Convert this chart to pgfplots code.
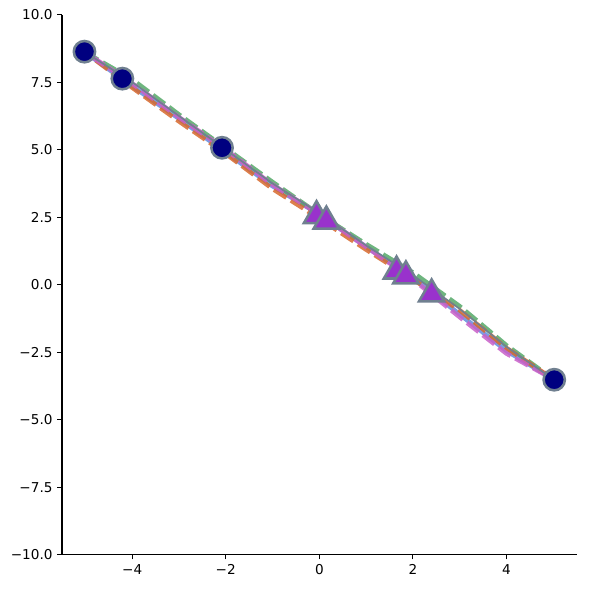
\documentclass[border=0pt]{standalone}
\usepackage{pgfplots}
\pgfplotsset{compat=1.18}
\usetikzlibrary{calc}
\usepackage{fontspec}
\setmainfont{DejaVu Sans}
\definecolor{cblue}{RGB}{100,140,220}
\definecolor{cgreen}{RGB}{85,168,104}
\definecolor{corange}{RGB}{215,105,45}
\definecolor{corchid}{RGB}{200,95,200}
\definecolor{slate}{RGB}{112,128,144}
\definecolor{navyc}{RGB}{0,0,128}
\definecolor{orchidc}{RGB}{153,50,204}

\begin{document}
\begin{tikzpicture}
\begin{axis}[
  scale only axis,
  width=386pt, height=405pt,
  xmin=-5.5, xmax=5.5, ymin=-10, ymax=10,
  axis x line*=bottom, axis y line*=left,
  axis line style={-, line width=0.8pt},
  tick align=outside, major tick length=3.6pt,
  tick style={black, line width=0.8pt},
  xtick={-4,-2,0,2,4},
  xticklabels={−4,−2,0,2,4},
  ytick={-10,-7.5,-5,-2.5,0,2.5,5,7.5,10},
  yticklabels={−10.0,−7.5,−5.0,−2.5,0.0,2.5,5.0,7.5,10.0},
  ticklabel style={font=\fontsize{10.2}{12}\selectfont},
  clip=false,
]
  \addplot[cblue, line width=3.4pt, opacity=0.85] coordinates {
    (-5,8.6) (-4,7.35) (-3,6.15) (-2,4.9) (-1,3.65) (0,2.6) (1,1.4) (2,0.25) (3,-1.1) (4,-2.45) (5,-3.5)};
  \addplot[cgreen, line width=3.4pt, opacity=0.85, dash pattern=on 11pt off 4pt] coordinates {
    (-5,8.6) (-4,7.6) (-3,6.3) (-2,5.05) (-1,3.8) (0,2.6) (1,1.5) (2,0.45) (3,-0.8) (4,-2.25) (5,-3.5)};
  \addplot[corange, line width=3.4pt, opacity=0.85, dash pattern=on 11pt off 4pt, dash phase=5pt] coordinates {
    (-5,8.6) (-4,7.3) (-3,6.05) (-2,4.85) (-1,3.55) (0,2.45) (1,1.3) (2,0.2) (3,-0.95) (4,-2.35) (5,-3.5)};
  \addplot[corchid, line width=3.4pt, opacity=0.85, dash pattern=on 11pt off 4pt, dash phase=9pt] coordinates {
    (-5,8.6) (-4,7.45) (-3,6.2) (-2,5.0) (-1,3.7) (0,2.6) (1,1.4) (2,0.2) (3,-1.2) (4,-2.55) (5,-3.5)};
  \addplot[slate, line width=1.2pt] coordinates {
    (-5,8.6) (-4,7.5) (-3,6.25) (-2,5.0) (-1,3.75) (0,2.65) (1,1.45) (2,0.35) (3,-0.9) (4,-2.3) (5,-3.5)};
  \addplot[only marks, mark=*, mark size=8pt, mark options={fill=navyc, draw=slate, line width=1.9pt}] coordinates {
    (-5.02,8.63) (-4.21,7.63) (-2.08,5.07) (5.02,-3.52)};
  \addplot[only marks, mark=triangle*, mark size=11pt, mark options={fill=orchidc, draw=slate, line width=1.9pt}] coordinates {
    (-0.06,2.55) (0.15,2.35) (1.65,0.5) (1.85,0.32) (2.4,-0.35)};
\end{axis}
\pgfresetboundingbox
\path ($(current axis.south west)+(-46.5pt,-25.5pt)$) rectangle ($(current axis.north east)+(10pt,11pt)$);
\end{tikzpicture}
\end{document}
